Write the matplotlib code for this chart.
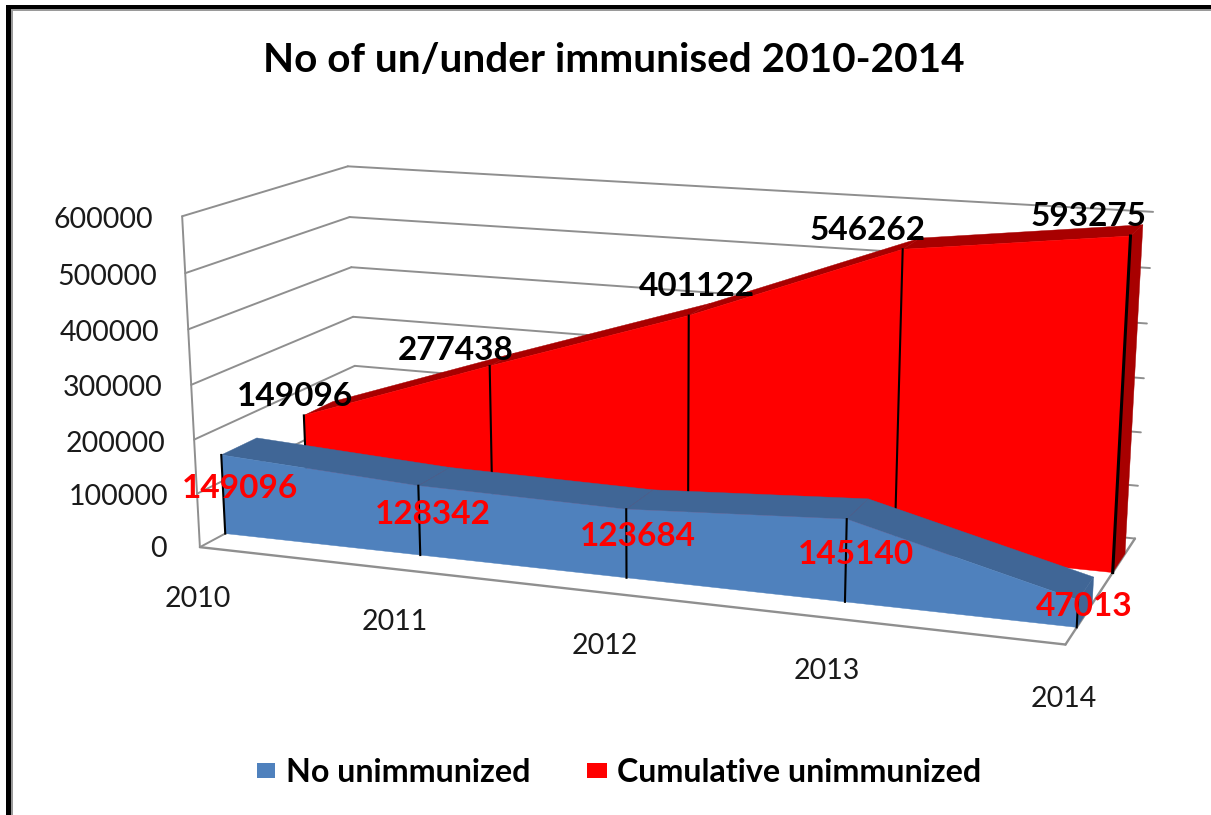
import numpy as np
import matplotlib
matplotlib.use("Agg")
import matplotlib.pyplot as plt
from matplotlib.patches import Polygon, Rectangle

years = ["2010", "2011", "2012", "2013", "2014"]
no_unimmunized = [149096, 128342, 123684, 145140, 47013]
cumulative = [149096, 277438, 401122, 546262, 593275]
y_ticks = [0, 100000, 200000, 300000, 400000, 500000, 600000]
y_max = 600000
title = "No of un/under immunised 2010-2014"
series_names = ["No unimmunized", "Cumulative unimmunized"]

W, H = 1211, 815
plt.rcParams['font.family'] = ['Lato', 'DejaVu Sans']
fig = plt.figure(figsize=(W / 100, H / 100), dpi=100)
ax = fig.add_axes([0, 0, 1, 1])
ax.set_xlim(0, W)
ax.set_ylim(H, 0)
ax.axis('off')

# camera: cube corners (u along categories, v value, w depth) -> image
cal = [((0, 0, 0), (200, 546.5)), ((1, 0, 0), (1065.5, 645)),
       ((0, 0, 1), (358, 463)), ((1, 0, 1), (1135, 538)),
       ((0, 1, 0), (182, 216.5)), ((0, 1, 1), (348, 166)),
       ((1, 1, 1), (1153, 212))]
A = []
for (u, v, w), (x, y) in cal:
    A.append([u, v, w, 1, 0, 0, 0, 0, -x * u, -x * v, -x * w, -x])
    A.append([0, 0, 0, 0, u, v, w, 1, -y * u, -y * v, -y * w, -y])
P = np.linalg.svd(np.array(A, float))[2][-1].reshape(3, 4)


def project(i, value, depth):
    p = P @ np.array([i / (len(years) - 1), value / y_max, depth, 1.0])
    return p[0] / p[2], p[1] / p[2]


GRID = '#8f8f8f'
def seg(a, b, **kw):
    kw.setdefault('color', GRID)
    kw.setdefault('lw', 1.4)
    ax.plot([a[0], b[0]], [a[1], b[1]], solid_capstyle='round', zorder=1, **kw)

last = len(years) - 1
for t in y_ticks:
    a, b, c = project(0, t, 0), project(0, t, 1), project(last, t, 1)
    seg(a, b); seg(b, c)
seg(project(0, 0, 0), project(0, y_max, 0))
seg(project(0, 0, 0), project(last, 0, 0), lw=1.7)
seg(project(last, 0, 0), project(last, 0, 1), lw=1.7)


def ribbon(values, d0, d1, front, dark, lw_last, z):
    n = len(values)
    for i in range(n - 1):
        ax.add_patch(Polygon([project(i, values[i], d0), project(i + 1, values[i + 1], d0),
                              project(i + 1, values[i + 1], d1), project(i, values[i], d1)],
                             fc=dark, ec=dark, lw=0.3, zorder=z))
    ax.add_patch(Polygon([project(n - 1, values[-1], d0), project(n - 1, values[-1], d1),
                          project(n - 1, 0, d1), project(n - 1, 0, d0)],
                         fc=dark, ec=dark, lw=0.3, zorder=z))
    outline = [project(i, v, d0) for i, v in enumerate(values)] + [project(n - 1, 0, d0), project(0, 0, d0)]
    ax.add_patch(Polygon(outline, fc=front, ec=front, lw=0.3, zorder=z + 0.1))
    for i, v in enumerate(values):
        a, b = project(i, 0, d0), project(i, v, d0)
        ax.plot([a[0], b[0]], [a[1], b[1]], color='black', zorder=z + 0.2,
                lw=lw_last if i == n - 1 else 1.5)


ribbon(cumulative, 0.65, 0.84, '#ff0000', '#a80000', 2.2, 3)
ribbon(no_unimmunized, 0.145, 0.355, '#4f81bd', '#406696', 1.5, 5)

ax.text(613.5, 61, title, ha='center', va='center', fontsize=29.2, fontweight='bold', color='black', zorder=10)

tick_pos = {0: (167, 549), 100000: (168, 497), 200000: (165, 444), 300000: (162, 388),
            400000: (159, 333), 500000: (157, 277), 600000: (153, 220)}
for t in y_ticks:
    x, y = tick_pos[t]
    ax.text(x, y, str(t), ha='right', va='center', fontsize=20.5, color='#1a1a1a', zorder=10)

cat_pos = [(198, 599), (395, 622), (605, 646), (827, 671), (1064, 699)]
for lab, (x, y) in zip(years, cat_pos):
    ax.text(x, y, lab, ha='center', va='center', fontsize=20.5, color='#1a1a1a', zorder=10)

top_pos = [(295, 396), (456, 351), (697, 286), (868, 230), (1089, 216)]
for v, (x, y) in zip(cumulative, top_pos):
    ax.text(x, y, str(v), ha='center', va='center', fontsize=24, fontweight='bold', color='black', zorder=10)
low_pos = [(240, 489), (433, 514), (638, 536), (856, 554), (1084, 606)]
for v, (x, y) in zip(no_unimmunized, low_pos):
    ax.text(x, y, str(v), ha='center', va='center', fontsize=24, fontweight='bold', color='#ff0000', zorder=10)

ax.add_patch(Rectangle((257, 763), 18, 15, fc='#4f81bd', ec='none'))
ax.add_patch(Rectangle((587, 763), 20, 15, fc='#ff0000', ec='none'))
ax.text(286, 772, series_names[0], ha='left', va='center', fontsize=23.2, fontweight='bold')
ax.text(617, 772, series_names[1], ha='left', va='center', fontsize=23.2, fontweight='bold')

# page frame
ax.add_patch(Rectangle((6, 5), W, 4, fc='black', ec='none'))
ax.add_patch(Rectangle((6, 5), 4.5, H, fc='black', ec='none'))
ax.add_patch(Rectangle((10.5, 9), W, 2, fc='#9a9a9a', ec='none'))
ax.add_patch(Rectangle((10.5, 9), 2.5, H, fc='#9a9a9a', ec='none'))

fig.savefig('out.png', dpi=100)
